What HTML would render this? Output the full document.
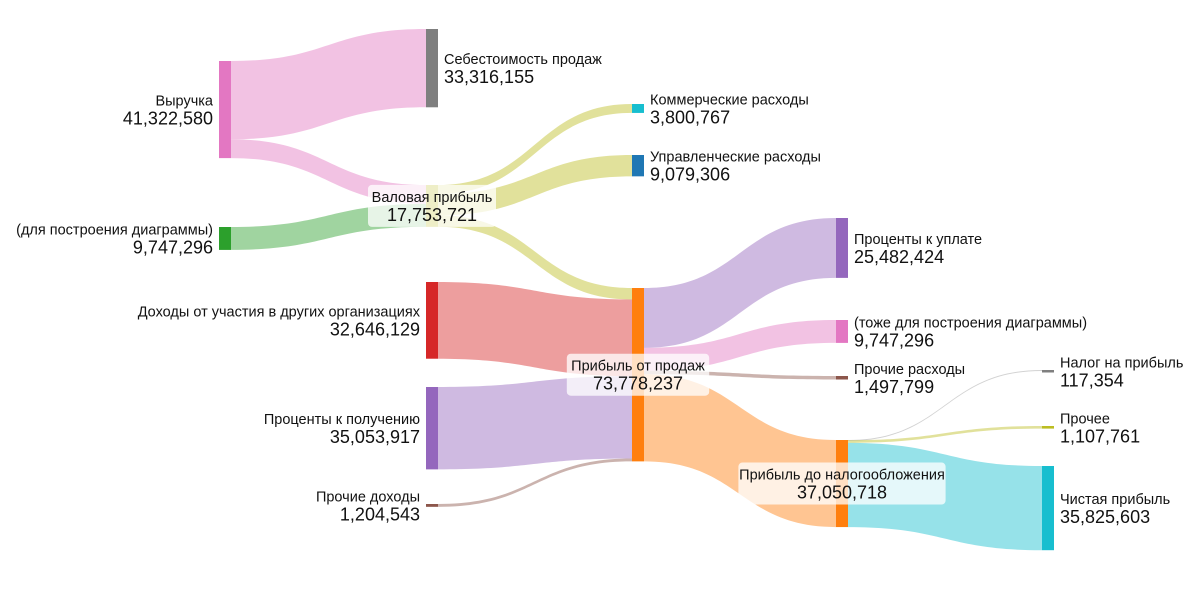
<!DOCTYPE html>
<html><head><meta charset="utf-8">
<style>
body{margin:0;background:#fff;width:1200px;height:600px;overflow:hidden;font-family:"Liberation Sans","DejaVu Sans",sans-serif}
svg text{font-family:"Liberation Sans","DejaVu Sans",sans-serif;fill:#111}
</style></head><body>
<svg id="chart" width="1200" height="600" xmlns="http://www.w3.org/2000/svg"></svg>
<script>
const nodeNames=["Выручка","(для построения диаграммы)","Себестоимость продаж","Валовая прибыль","Коммерческие расходы","Управленческие расходы","Доходы от участия в других организациях","Проценты к получению","Прочие доходы","Прибыль от продаж","Проценты к уплате","(тоже для построения диаграммы)","Прочие расходы","Прибыль до налогообложения","Налог на прибыль","Прочее","Чистая прибыль"];
const nodeValues=[41322580,9747296,33316155,17753721,3800767,9079306,32646129,35053917,1204543,73778237,25482424,9747296,1497799,37050718,117354,1107761,35825603];
const linkSource=[0,0,1,3,3,3,6,7,8,9,9,9,9,13,13,13];
const linkTarget=[2,3,3,4,5,9,9,9,9,10,11,12,13,14,15,16];
const linkValues=[33316155,8006425,9747296,3800767,9079306,4873648,32646129,35053917,1204543,25482424,9747296,1497799,37050718,117354,1107761,35825603];
// layout (not data)
const nodeCol=[0,0,1,1,2,2,1,1,1,2,3,3,3,3,4,4,4];
const nodeTop=[61,227,29,185,104,155,282,387,504,288,218,320,376,440,370,426,466];
const nodeColor=["#e377c2","#2ca02c","#7f7f7f","#bcbd22","#17becf","#1f77b4","#d62728","#9467bd","#8c564b","#ff7f0e","#9467bd","#e377c2","#8c564b","#ff7f0e","#7f7f7f","#bcbd22","#17becf"];
const linkColor=["#e377c2","#e377c2","#2ca02c","#bcbd22","#bcbd22","#bcbd22","#d62728","#9467bd","#8c564b","#9467bd","#e377c2","#8c564b","#ff7f0e","#7f7f7f","#bcbd22","#17becf"];
const boxed=[3,9,13];
const leftLabel=[0,1,6,7,8];
const colXs=[219,426,632,836,1042];
const colX=c=>colXs[c];
const NW=12;
const scale=v=>v/1e6*2.35;
const NS="http://www.w3.org/2000/svg";
const svg=document.getElementById('chart');
function mk(t,a,p){const e=document.createElementNS(NS,t);for(const k in a)e.setAttribute(k,a[k]);(p||svg).appendChild(e);return e;}
const gL=mk('g',{});
const gN=mk('g',{});
const gT=mk('g',{});
const outOff=nodeNames.map(()=>0),inOff=nodeNames.map(()=>0);
const fmt=v=>v.toLocaleString('en-US');
linkValues.forEach((v,i)=>{
  const s=linkSource[i],t=linkTarget[i],h=scale(v);
  const x0=colX(nodeCol[s])+NW,x1=colX(nodeCol[t]);
  const y0=nodeTop[s]+outOff[s],y1=nodeTop[t]+inOff[t];
  outOff[s]+=h;inOff[t]+=h;
  const xm=(x0+x1)/2,hh=Math.max(h,1);
  const p=mk('path',{d:`M${x0},${y0}C${xm},${y0} ${xm},${y1} ${x1},${y1}L${x1},${y1+hh}C${xm},${y1+hh} ${xm},${y0+hh} ${x0},${y0+hh}Z`,fill:linkColor[i],'fill-opacity':i==13?0.35:0.45},gL);
  
  
});
nodeNames.forEach((n,i)=>{
  const h=Math.max(scale(nodeValues[i]),2.5),x=colX(nodeCol[i]),y=nodeTop[i];
  const r=mk('rect',{x:x,y:y,width:NW,height:h,fill:nodeColor[i]},gN);
  
  
  const cy=y+h/2;
  const g=mk('g',{},gT);
  
  
  let tx,anchor;
  if(boxed.includes(i)){
    tx=x+NW/2;anchor='middle';
    const w=Math.max(n.length*7.2+20,128);
    mk('rect',{x:tx-w/2,y:cy-21,width:w,height:42,rx:4,fill:'#fff','fill-opacity':0.75},g);
  } else if(leftLabel.includes(i)){tx=x-6;anchor='end';}
  else {tx=x+NW+6;anchor='start';}
  const a=mk('text',{x:tx,y:cy-4,'font-size':14.5,'text-anchor':anchor},g);a.textContent=n;
  const b=mk('text',{x:tx,y:cy+15,'font-size':18,'text-anchor':anchor},g);b.textContent=fmt(nodeValues[i]);
});
</script>
</body></html>
